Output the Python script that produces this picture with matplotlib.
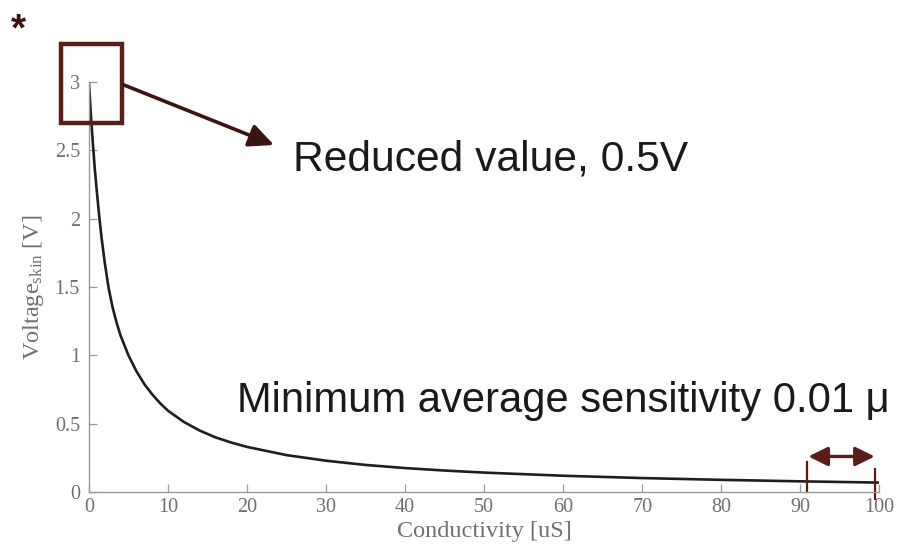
import matplotlib
matplotlib.use('Agg')
import matplotlib.pyplot as plt
from matplotlib.patches import Rectangle, FancyArrowPatch

# 读图得到的曲线点 (Conductivity [uS], Voltage_skin [V])
conductivity = [0, 0.25, 0.5, 0.75, 1.0, 1.3, 1.6, 2.0, 2.5, 3.0, 3.5, 4.0, 5, 6, 7, 8, 9,
                10, 12, 14, 16, 18, 20, 25, 30, 35, 40, 45, 50, 60, 70, 80, 90, 100]
voltage = [3.0, 2.76, 2.55, 2.36, 2.2, 2.02, 1.86, 1.68, 1.49, 1.35, 1.24, 1.145, 1.0, 0.885,
           0.79, 0.715, 0.65, 0.595, 0.513, 0.45, 0.40, 0.362, 0.33, 0.27, 0.229, 0.198,
           0.175, 0.157, 0.142, 0.119, 0.102, 0.089, 0.078, 0.069]

x_ticks = [0, 10, 20, 30, 40, 50, 60, 70, 80, 90, 100]
y_ticks = [0, 0.5, 1, 1.5, 2, 2.5, 3]
y_tick_labels = ['0', '0.5', '1', '1.5', '2', '2.5', '3']

# 灵敏度区间标记
range_start, range_end = 90.8, 99.4

plt.rcParams['mathtext.fontset'] = 'custom'
plt.rcParams['mathtext.rm'] = 'Liberation Serif'
plt.rcParams['mathtext.it'] = 'Liberation Serif:italic'

gray = '#707070'
axis_gray = '#9a9a9a'
brown = '#5b1d17'
dark_brown = '#3a1410'

fig = plt.figure(figsize=(8.99, 5.56), dpi=100)
ax = fig.add_axes([0.0989, 0.1151, 0.8794, 0.7374])

ax.plot(conductivity, voltage, color='#1e1e1e', lw=1.9)
ax.set_xlim(0, 100)
ax.set_ylim(0, 3)
ax.set_xticks(x_ticks)
ax.set_yticks(y_ticks)
ax.set_yticklabels(y_tick_labels)

for s in ['top', 'right']:
    ax.spines[s].set_visible(False)
for s in ['left', 'bottom']:
    ax.spines[s].set_color(axis_gray)
    ax.spines[s].set_linewidth(1.0)

ax.tick_params(direction='in', length=5.5, width=0.9, color=axis_gray,
               labelcolor=gray, labelsize=14.5)
ax.tick_params(axis='y', pad=6.5)
ax.tick_params(axis='x', pad=4)
for lab in ax.get_xticklabels() + ax.get_yticklabels():
    lab.set_family('Liberation Serif')

ax.set_xlabel('Conductivity [uS]', family='Liberation Serif', fontsize=17.5, color=gray, labelpad=3)
ax.set_ylabel('Voltage$_{\\mathrm{skin}}$ [V]', family='Liberation Serif', fontsize=17.5,
              color=gray, labelpad=6)

# 注释
fig.text(18 / 899, 1 - 40 / 556, '*', fontsize=28, fontweight='bold', color=dark_brown,
         ha='center', va='baseline', family='Liberation Sans')

fig.patches.append(Rectangle((61 / 899, 1 - 123 / 556), 61 / 899, 79 / 556,
                             transform=fig.transFigure, fill=False, edgecolor=brown, lw=3.2))
fig.patches.append(FancyArrowPatch((124 / 899, 1 - 85 / 556), (274 / 899, 1 - 145 / 556),
                                   transform=fig.transFigure,
                                   arrowstyle='-|>,head_length=0.75,head_width=0.35',
                                   mutation_scale=20, color=dark_brown, lw=2.6,
                                   shrinkA=0, shrinkB=0))

fig.text(293 / 899, 1 - 160 / 556, 'Reduced value, 0.5V', fontsize=30.7, color='#1a1a1a',
         ha='left', va='center', family='Liberation Sans')
fig.text(237 / 899, 1 - 401 / 556, 'Minimum average sensitivity 0.01 \u03bc', fontsize=30.1,
         color='#1a1a1a', ha='left', va='center', family=['Liberation Sans', 'DejaVu Sans'])

ax.plot([range_start, range_start], [0.0, 0.22], color=brown, lw=1.6, clip_on=False)
ax.plot([range_end, range_end], [-0.05, 0.17], color=brown, lw=1.6, clip_on=False)
ax.annotate('', xy=(range_end, 0.26), xytext=(range_start + 0.2, 0.26),
            arrowprops=dict(arrowstyle='<|-|>,head_length=0.65,head_width=0.32',
                            color=brown, lw=2.4, mutation_scale=18,
                            shrinkA=0, shrinkB=0),
            annotation_clip=False)

fig.savefig('out.png', dpi=100)
